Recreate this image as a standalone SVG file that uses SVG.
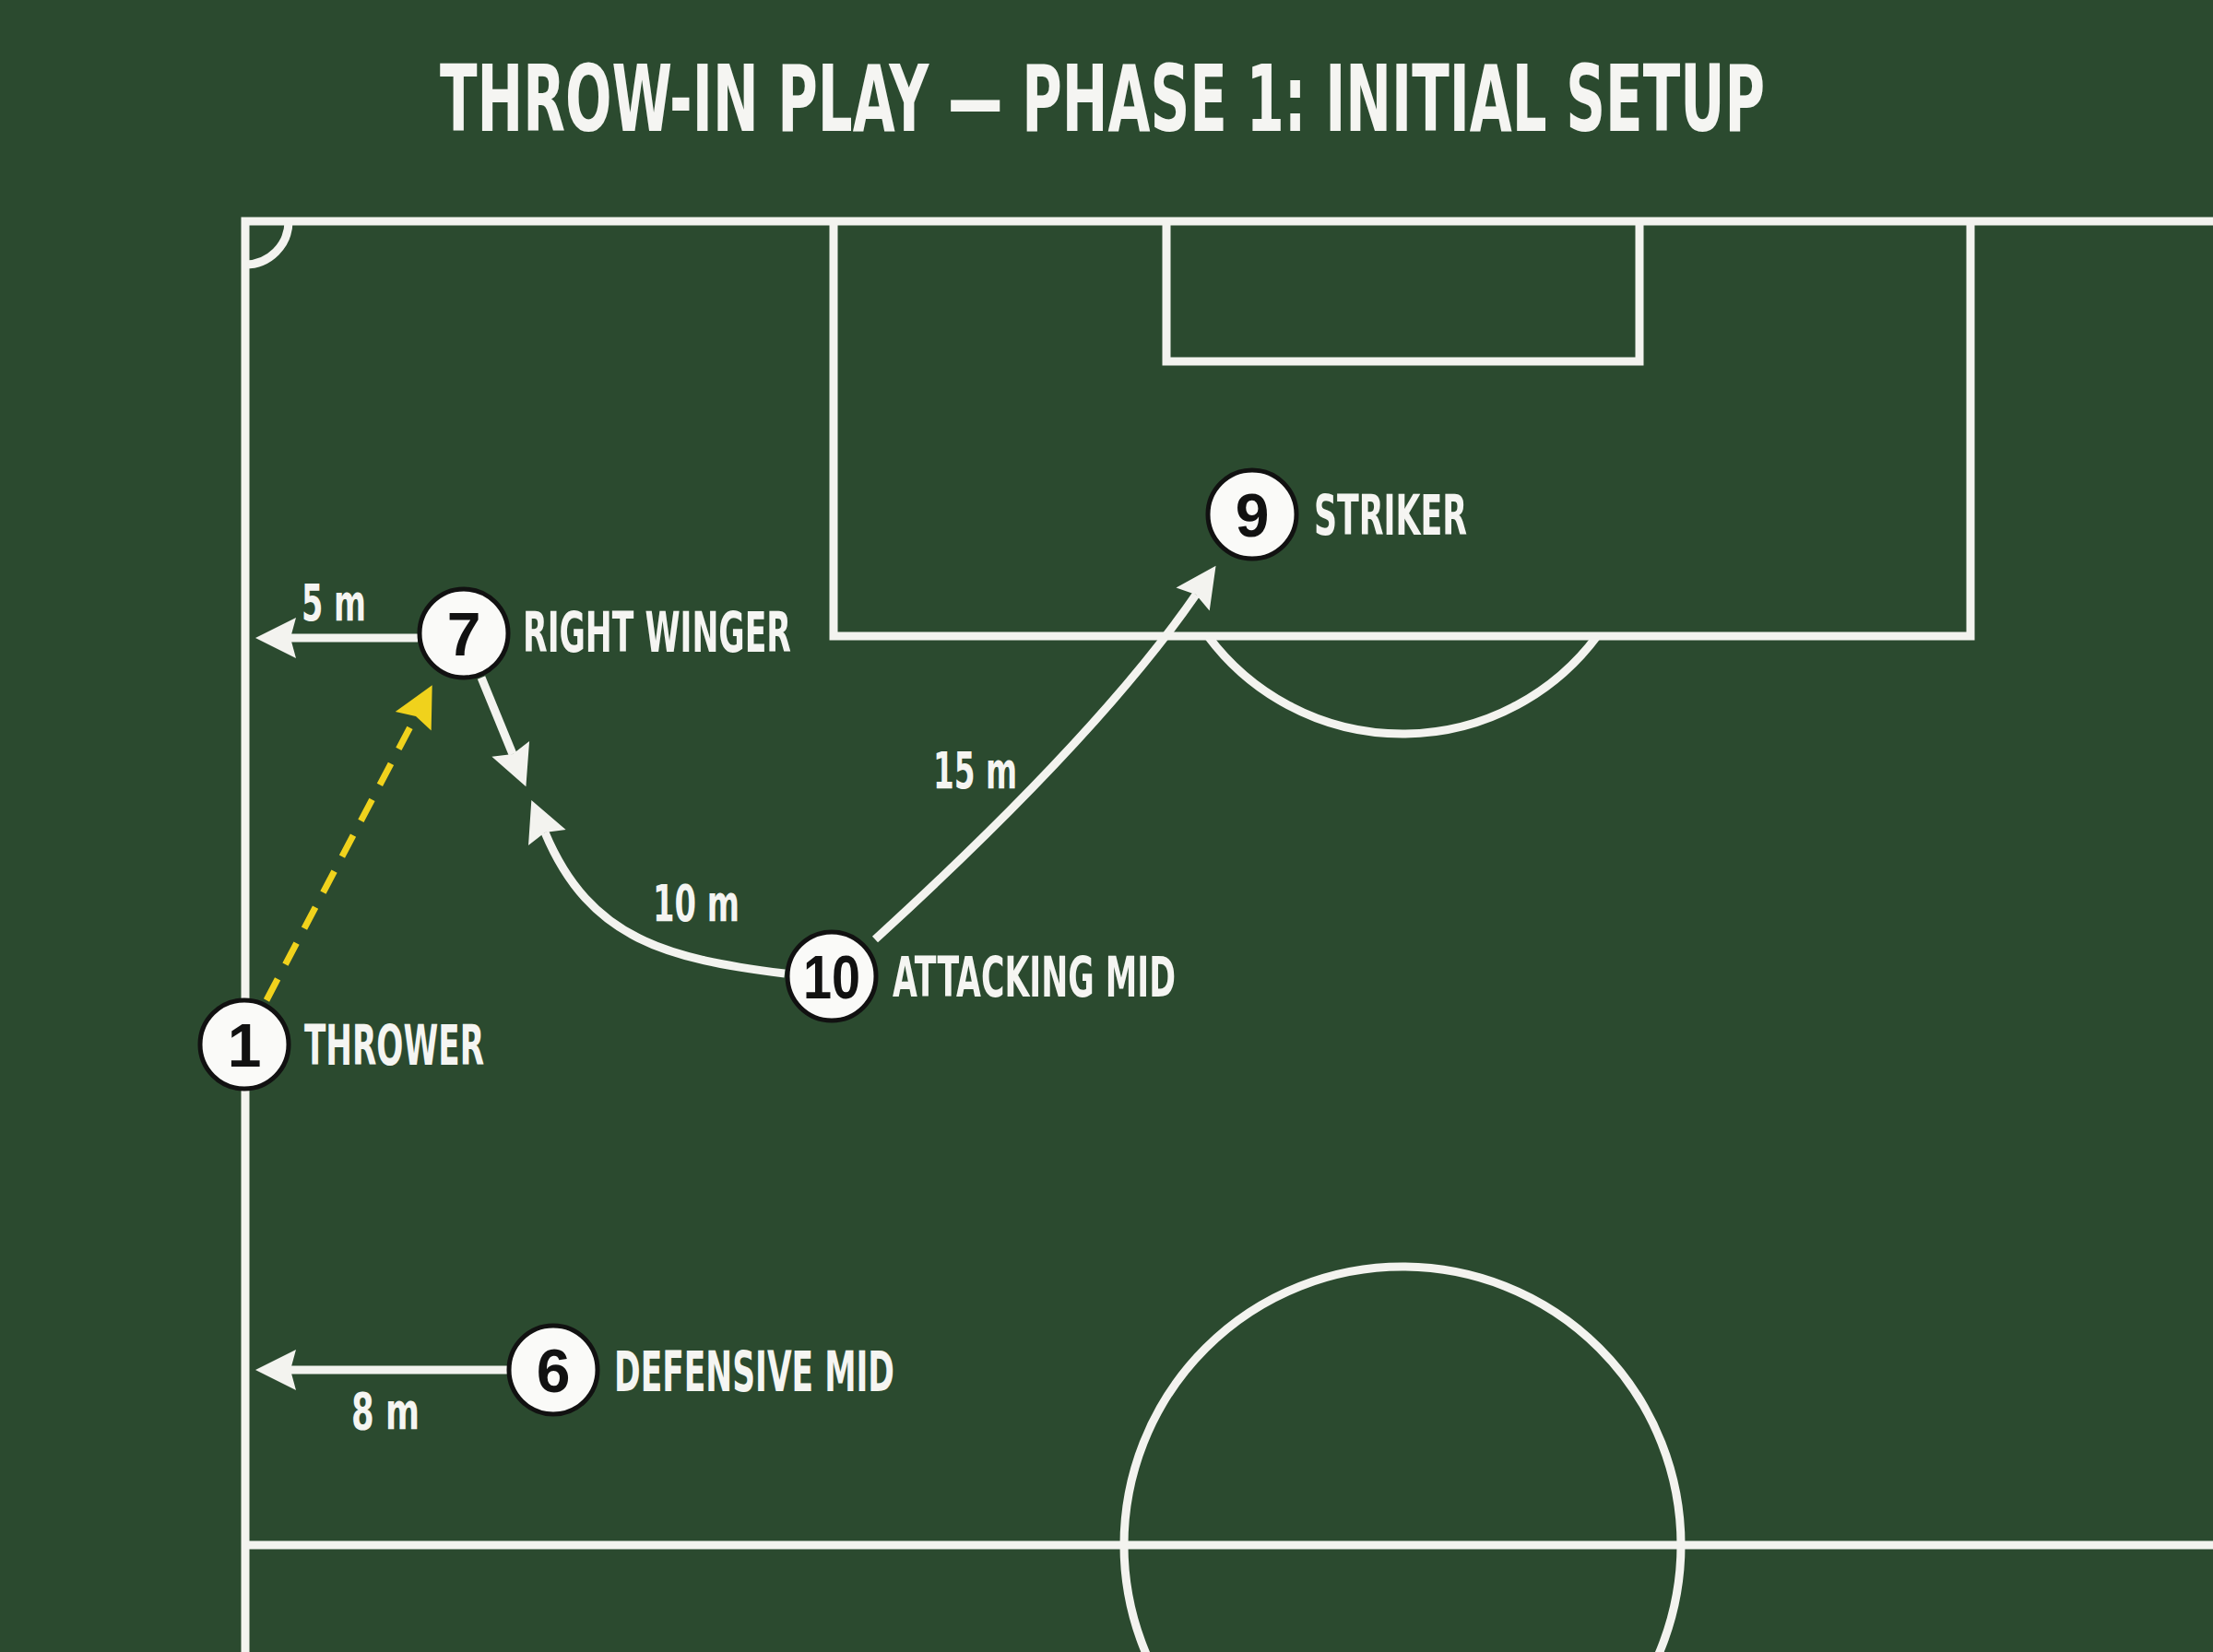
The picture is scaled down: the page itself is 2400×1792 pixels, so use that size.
<svg xmlns="http://www.w3.org/2000/svg" width="2400" height="1792" viewBox="0 0 2400 1792">
  <style>
    .pitch { fill: none; stroke: #f3f3ef; stroke-width: 9; }
    .conn { fill: none; stroke: #f3f3ef; stroke-width: 9; }
    .pass { fill: none; stroke: #f0d21c; stroke-width: 7; stroke-dasharray: 26 18; }
    .disc { fill: #fafaf8; stroke: #111; stroke-width: 5; }
    .num { font-family: "Liberation Sans", Arial, sans-serif; font-weight: bold; font-size: 66px; fill: #111; text-anchor: middle; }
    .lbl { font-family: "DejaVu Sans Condensed", "Liberation Sans", sans-serif; font-weight: bold; font-size: 60px; fill: #f5f5f2; }
    .dist { font-family: "DejaVu Sans Condensed", "Liberation Sans", sans-serif; font-weight: bold; font-size: 56px; fill: #f5f5f2; }
    .title { font-family: "DejaVu Sans Condensed", "Liberation Sans", sans-serif; font-weight: bold; font-size: 100px; fill: #f5f5f2; }
  </style>
  <defs>
    <marker id="ah" viewBox="-46 -24 50 48" refX="-38" refY="0" markerWidth="50" markerHeight="48" markerUnits="userSpaceOnUse" orient="auto">
      <path d="M0,0 L-44,-22 L-38,0 L-44,22 Z" fill="#f3f3ef"/>
    </marker>
    <marker id="ahy" viewBox="-46 -24 50 48" refX="-38" refY="0" markerWidth="50" markerHeight="48" markerUnits="userSpaceOnUse" orient="auto">
      <path d="M0,0 L-44,-22 L-38,0 L-44,22 Z" fill="#f0d21c"/>
    </marker>
  </defs>

  <rect x="0" y="0" width="2400" height="1792" fill="#2b4a2f"/>

  <text class="title" transform="translate(477 142) scale(0.6 1)" x="0" y="0" textLength="2395" lengthAdjust="spacingAndGlyphs">THROW-IN PLAY — PHASE 1: INITIAL SETUP</text>

  <g id="pitch">
    <path class="pitch" d="M2400 240 L266 240 L266 1792"/>
    <path class="pitch" d="M266 1676 L2400 1676"/>
    <path class="pitch" d="M313 240 A47 47 0 0 1 266 287"/>
    <path class="pitch" d="M904 240 L904 690 L2137 690 L2137 240"/>
    <path class="pitch" d="M1265 240 L1265 392 L1778 392 L1778 240"/>
    <path class="pitch" d="M1310 690 A263 263 0 0 0 1732 690"/>
    <circle class="pitch" cx="1521" cy="1676" r="302"/>
  </g>

  <g id="connectors">
    <path class="pass" d="M289 1085 L451 777" marker-end="url(#ahy)"/>
    <path class="conn" d="M453 692 L315 692" marker-end="url(#ah)"/>
    <path class="conn" d="M550 1486 L315 1486" marker-end="url(#ah)"/>
    <path class="conn" d="M522 735 L556 818" marker-end="url(#ah)"/>
    <path class="conn" d="M851 1056 C725 1040 640 1020 591 903" marker-end="url(#ah)"/>
    <path class="conn" d="M949 1019 Q1193 796 1297 645" marker-end="url(#ah)"/>
  </g>

  <g id="labels-distance">
    <text class="dist" x="327" y="673" textLength="70" lengthAdjust="spacingAndGlyphs">5 m</text>
    <text class="dist" x="708" y="999" textLength="94" lengthAdjust="spacingAndGlyphs">10 m</text>
    <text class="dist" x="1012" y="855" textLength="91" lengthAdjust="spacingAndGlyphs">15 m</text>
    <text class="dist" x="381" y="1550" textLength="74" lengthAdjust="spacingAndGlyphs">8 m</text>
  </g>

  <g id="node-1">
    <circle class="disc" cx="265" cy="1133" r="48"/>
    <text class="num" x="265" y="1157">1</text>
    <text class="lbl" x="330" y="1155" textLength="195" lengthAdjust="spacingAndGlyphs">THROWER</text>
  </g>
  <g id="node-7">
    <circle class="disc" cx="503" cy="687" r="48"/>
    <text class="num" x="503" y="711">7</text>
    <text class="lbl" x="567" y="707" textLength="291" lengthAdjust="spacingAndGlyphs">RIGHT WINGER</text>
  </g>
  <g id="node-9">
    <circle class="disc" cx="1358" cy="558" r="48"/>
    <text class="num" x="1358" y="582">9</text>
    <text class="lbl" x="1425" y="580" textLength="166" lengthAdjust="spacingAndGlyphs">STRIKER</text>
  </g>
  <g id="node-10">
    <circle class="disc" cx="902" cy="1059" r="48"/>
    <text class="num" x="902" y="1083" textLength="62" lengthAdjust="spacingAndGlyphs">10</text>
    <text class="lbl" x="968" y="1081" textLength="307" lengthAdjust="spacingAndGlyphs">ATTACKING MID</text>
  </g>
  <g id="node-6">
    <circle class="disc" cx="600" cy="1486" r="48"/>
    <text class="num" x="600" y="1510">6</text>
    <text class="lbl" x="666" y="1509" textLength="304" lengthAdjust="spacingAndGlyphs">DEFENSIVE MID</text>
  </g>
</svg>
